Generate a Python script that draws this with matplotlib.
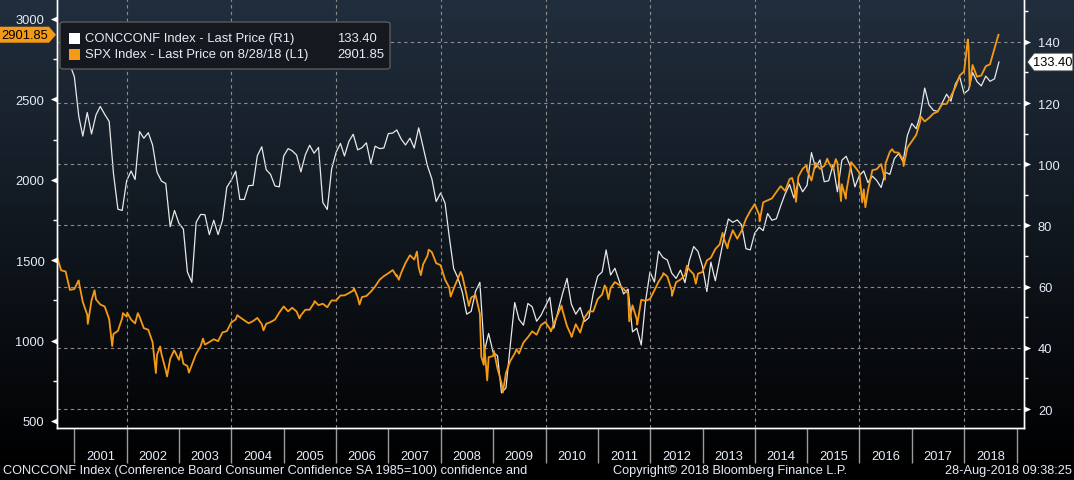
import numpy as np
import pandas as pd
import matplotlib
matplotlib.use('Agg')
import matplotlib.pyplot as plt
from matplotlib.patches import Polygon, FancyBboxPatch, Rectangle
from matplotlib.transforms import IdentityTransform

plt.rcParams['font.family'] = ['Liberation Sans', 'DejaVu Sans']

# S&P 500 month-end closes, Sep 2000 .. Jul 2018
spx_close = [
    1436.5, 1429.4, 1315.0, 1320.3,
    1366.0, 1239.9, 1160.3, 1249.5, 1255.8, 1224.4, 1211.2, 1133.6, 1040.9, 1059.8, 1139.5, 1148.1,
    1130.2, 1106.7, 1147.4, 1076.9, 1067.1, 989.8, 911.6, 916.1, 815.3, 885.8, 936.3, 879.8,
    855.7, 841.2, 848.2, 916.9, 963.6, 974.5, 990.3, 1008.0, 996.0, 1050.7, 1058.2, 1111.9,
    1131.1, 1144.9, 1126.2, 1107.3, 1120.7, 1140.8, 1101.7, 1104.2, 1114.6, 1130.2, 1173.8, 1211.9,
    1181.3, 1203.6, 1180.6, 1156.9, 1191.5, 1191.3, 1234.2, 1220.3, 1228.8, 1207.0, 1249.5, 1248.3,
    1280.1, 1280.7, 1294.8, 1310.6, 1270.1, 1270.2, 1276.7, 1303.8, 1335.9, 1377.9, 1400.6, 1418.3,
    1438.2, 1406.8, 1420.9, 1482.4, 1530.6, 1503.4, 1455.3, 1474.0, 1526.8, 1549.4, 1481.1, 1468.4,
    1378.6, 1330.6, 1322.7, 1385.6, 1400.4, 1280.0, 1267.4, 1282.8, 1166.4, 968.8, 896.2, 903.3,
    825.9, 735.1, 797.9, 872.8, 919.1, 919.3, 987.5, 1020.6, 1057.1, 1036.2, 1095.6, 1115.1,
    1073.9, 1104.5, 1169.4, 1186.7, 1089.4, 1030.7, 1101.6, 1049.3, 1141.2, 1183.3, 1180.6, 1257.6,
    1286.1, 1327.2, 1325.8, 1363.6, 1345.2, 1320.6, 1292.3, 1218.9, 1131.4, 1253.3, 1247.0, 1257.6,
    1312.4, 1365.7, 1408.5, 1397.9, 1310.3, 1362.2, 1379.3, 1406.6, 1440.7, 1412.2, 1416.2, 1426.2,
    1498.1, 1514.7, 1569.2, 1597.6, 1630.7, 1606.3, 1685.7, 1633.0, 1681.6, 1756.5, 1805.8, 1848.4,
    1782.6, 1859.5, 1872.3, 1884.0, 1923.6, 1960.2, 1930.7, 2003.4, 1972.3, 2018.1, 2067.6, 2058.9,
    1995.0, 2104.5, 2067.9, 2085.5, 2107.4, 2063.1, 2103.8, 1972.2, 1920.0, 2079.4, 2080.4, 2043.9,
    1940.2, 1932.2, 2059.7, 2065.3, 2097.0, 2098.9, 2173.6, 2171.0, 2168.3, 2126.2, 2198.8, 2238.8,
    2278.9, 2363.6, 2362.7, 2384.2, 2411.8, 2423.4, 2470.3, 2471.7, 2519.4, 2575.3, 2647.6, 2673.6,
    2823.8, 2713.8, 2640.9, 2648.1, 2705.3, 2718.4, 2816.3,
]

# intra-month S&P 500 turning points (and the last price)
spx_extra_dates = [
    '2000-09-01', '2001-01-30', '2001-04-04', '2001-05-21', '2001-09-21', '2001-12-05',
    '2002-01-04', '2002-03-19', '2002-07-23', '2002-08-22', '2002-10-09', '2002-11-27',
    '2003-01-14', '2003-03-11', '2003-06-17', '2004-02-11', '2004-08-12', '2005-04-20',
    '2005-08-03', '2006-05-05', '2006-06-13', '2007-02-27', '2007-03-14', '2007-07-19',
    '2007-08-15', '2007-10-09', '2008-03-10', '2008-05-19', '2008-07-15', '2008-10-10',
    '2008-10-27', '2008-11-20', '2009-01-06', '2009-03-09', '2009-06-12', '2010-02-08',
    '2010-04-23', '2010-07-02', '2011-02-18', '2011-03-16', '2011-08-08', '2011-10-03',
    '2012-04-02', '2012-06-01', '2012-09-14', '2012-11-15', '2013-05-21', '2013-06-24',
    '2014-02-03', '2014-09-18', '2014-10-15', '2014-12-29', '2015-05-21', '2015-07-20',
    '2015-08-25', '2015-09-28', '2015-11-03', '2016-01-20', '2016-02-11', '2016-06-27',
    '2016-08-15', '2016-11-04', '2017-03-01', '2018-01-26', '2018-02-08', '2018-08-28',
]
spx_extra = [
    1520.8, 1373.7, 1103.3, 1312.8, 965.8, 1170.4,
    1172.5, 1170.3, 797.7, 962.7, 776.8, 938.9,
    931.7, 800.7, 1011.7, 1157.8, 1063.2, 1137.5,
    1245.0, 1325.8, 1223.7, 1399.0, 1377.9, 1553.1,
    1406.7, 1565.2, 1273.4, 1426.6, 1214.9, 899.2,
    848.9, 752.4, 934.7, 676.5, 946.2, 1056.7,
    1217.3, 1022.6, 1343.0, 1256.9, 1119.5, 1099.2,
    1419.0, 1278.0, 1465.8, 1353.3, 1669.2, 1573.1,
    1741.9, 2011.4, 1862.5, 2090.6, 2130.8, 2128.3,
    1867.6, 1881.8, 2109.8, 1859.3, 1829.1, 2000.5,
    2190.2, 2085.2, 2396.0, 2872.9, 2581.0, 2901.85,
]

# Conference Board Consumer Confidence, Sep 2000 .. Aug 2018
conf = [
    142.5, 135.8, 132.6, 128.6,
    115.7, 109.2, 116.9, 109.9, 116.1, 118.9, 116.3, 114.0, 97.0, 85.3, 84.9, 94.6,
    97.8, 95.0, 110.7, 108.5, 110.3, 106.3, 97.4, 94.5, 93.7, 79.6, 84.9, 80.7,
    78.8, 64.8, 61.4, 81.0, 83.6, 83.5, 77.0, 81.7, 77.0, 81.7, 92.5, 94.8,
    97.7, 88.5, 88.5, 93.0, 93.1, 102.8, 105.7, 98.2, 96.7, 92.9, 92.6, 102.7,
    105.1, 104.4, 103.0, 97.5, 103.1, 106.2, 103.6, 105.5, 87.5, 85.2, 98.3, 103.8,
    106.8, 102.7, 107.5, 109.8, 104.7, 105.4, 107.0, 100.2, 105.9, 105.1, 105.3, 110.0,
    110.2, 111.2, 108.2, 106.3, 108.5, 105.3, 111.9, 105.6, 99.5, 95.2, 87.8, 90.6,
    87.3, 76.4, 65.9, 62.8, 58.1, 51.0, 51.9, 58.5, 61.4, 38.8, 44.7, 38.6,
    37.4, 25.3, 26.9, 40.8, 54.8, 49.3, 47.4, 54.5, 53.4, 48.7, 50.6, 53.6,
    56.5, 46.4, 52.3, 57.7, 62.7, 54.3, 51.0, 53.2, 48.6, 49.9, 57.8, 63.4,
    64.8, 72.0, 63.8, 66.0, 61.7, 57.6, 59.2, 45.2, 46.4, 40.9, 55.2, 64.8,
    61.5, 71.6, 69.5, 68.7, 64.4, 62.7, 65.4, 61.3, 68.4, 73.1, 71.5, 66.7,
    58.4, 68.0, 61.9, 69.0, 76.2, 82.1, 81.0, 81.8, 80.2, 72.4, 72.0, 77.5,
    79.4, 78.3, 83.9, 81.7, 82.2, 86.4, 90.3, 93.4, 89.0, 94.1, 91.0, 93.1,
    103.8, 98.8, 101.4, 94.3, 94.6, 99.8, 91.0, 101.3, 102.6, 99.1, 92.6, 96.3,
    97.8, 94.0, 96.1, 94.7, 92.4, 97.4, 96.7, 101.8, 103.5, 100.8, 109.4, 113.3,
    111.6, 116.1, 124.9, 119.4, 117.6, 117.3, 120.0, 122.9, 120.6, 126.2, 128.6, 123.1,
    124.3, 130.0, 127.0, 125.6, 128.8, 127.1, 127.9, 133.4,
]

years = list(range(2001, 2019))
left_ticks = [500, 1000, 1500, 2000, 2500, 3000]
right_ticks = [20, 40, 60, 80, 100, 120, 140]

ORANGE = '#f59a14'
TXT = '#e4ecf8'

def month_ends(start, n):
    return pd.period_range(start, periods=n, freq='M').to_timestamp() + pd.offsets.MonthEnd(0)

spx = pd.Series(spx_close, index=month_ends('2000-09', len(spx_close)))
spx = pd.concat([spx, pd.Series(spx_extra, index=pd.to_datetime(spx_extra_dates))]).sort_index()
cci = pd.Series(conf, index=month_ends('2000-09', len(conf)))

W, H = 1074, 481
fig = plt.figure(figsize=(W / 100, H / 100), dpi=100, facecolor='black')

# background gradient
bg = fig.add_axes([0, 0, 1, 1], zorder=-10)
t = np.clip(np.linspace(0, 1, H) / 0.98, 0, 1)[:, None]
top = np.array([33, 46, 61]) / 255
grad = (1 - t)[..., None] * top[None, None, :]
bg.imshow(grad, aspect='auto', extent=[0, 1, 0, 1], origin='upper')
bg.axis('off')

ax = fig.add_axes([57 / W, 52 / H, (1024 - 57) / W, 429 / H])
ax2 = ax.twinx()
ax.set_zorder(ax2.get_zorder() + 1)
ax.patch.set_visible(False)
ax2.patch.set_visible(False)

ax2.plot(cci.index, cci.values, color='#e8e8e8', lw=0.9)
ax.plot(spx.index, spx.values, color=ORANGE, lw=1.3)

ax.set_xlim(pd.Timestamp('2000-09-01'), pd.Timestamp('2019-02-22'))
ax.set_ylim(456, 3124)
ax2.set_ylim(13.8, 154.0)

for a in (ax, ax2):
    a.spines['top'].set_visible(False)
    for s in ['left', 'right', 'bottom']:
        a.spines[s].set_color('white')
        a.spines[s].set_linewidth(1)

# grid
grid_kw = dict(color='#8c8c8c', lw=0.8, ls=(0, (3, 3)))
for y in range(2002, 2019, 2):
    ax2.axvline(pd.Timestamp(f'{y}-01-01'), **grid_kw)
for v in right_ticks:
    ax2.axhline(v, **grid_kw)

# x axis: year separators + year labels
ax.set_xticks([pd.Timestamp(f'{y}-01-01') for y in range(2001, 2020)])
ax.set_xticklabels([])
ax.tick_params(axis='x', which='major', length=25, width=1, color='#9a9a9a', direction='out')
ax.set_xticks([pd.Timestamp(f'{y}-07-02') for y in years], minor=True)
ax.set_xticklabels([str(y) for y in years], minor=True)
ax.tick_params(axis='x', which='minor', length=0, pad=16, labelsize=9.3, labelcolor=TXT)

# left axis
ax.set_yticks(left_ticks)
ax.set_yticks([v + 250 for v in left_ticks[:-1]], minor=True)
ax.tick_params(axis='y', which='major', length=0, pad=9, labelsize=9.3, labelcolor=TXT)
ax.tick_params(axis='y', which='minor', length=3, width=1, color='white', direction='out')
tri_l = [(0, 0.45), (-1, 0), (0, -0.45), (0, 0.45)]
ax.scatter([0] * len(left_ticks), left_ticks, marker=tri_l, s=90, color='white',
           transform=ax.get_yaxis_transform(), clip_on=False, zorder=5, lw=0)

# right axis
ax2.set_yticks(right_ticks)
ax2.set_yticks([v + 10 for v in right_ticks], minor=True)
ax2.tick_params(axis='y', which='major', length=0, pad=10, labelsize=9.3, labelcolor=TXT)
ax2.tick_params(axis='y', which='minor', length=3, width=1, color='white', direction='out')
tri_r = [(0, 0.45), (1, 0), (0, -0.45), (0, 0.45)]
ax2.scatter([1] * len(right_ticks), right_ticks, marker=tri_r, s=90, color='white',
            transform=ax2.get_yaxis_transform(), clip_on=False, zorder=5, lw=0)

# last value tags
spx_last = spx.values[-1]
cci_last = cci.values[-1]
yl = ax.transData.transform((0, spx_last))[1]
fig.patches.append(Polygon([(0, yl - 8), (49, yl - 8), (56, yl), (49, yl + 8), (0, yl + 8)],
                           closed=True, fc=ORANGE, ec='none', transform=IdentityTransform()))
fig.text(25 / W, yl / H, f'{spx_last:.2f}', ha='center', va='center', fontsize=9.3, color='black')
yr = ax2.transData.transform((0, cci_last))[1]
fig.patches.append(Polygon([(1027, yr), (1034, yr - 9), (1073, yr - 9), (1073, yr + 9), (1034, yr + 9)],
                           closed=True, fc='white', ec='#333333', lw=0.8, transform=IdentityTransform()))
fig.text(1053 / W, yr / H, f'{cci_last:.2f}', ha='center', va='center', fontsize=9.3, color='black')

# legend
def px(x, y):
    return x / W, 1 - y / H

fig.patches.append(FancyBboxPatch(px(60, 70), 330 / W, 47 / H,
                                  boxstyle='round,pad=0,rounding_size=0.004',
                                  fc='#15191f', ec='#5a5a5a', lw=1, transform=fig.transFigure))
rows = [('CONCCONF Index - Last Price (R1)', 'white', f'{cci_last:.2f}', 39),
        ('SPX Index - Last Price on 8/28/18 (L1)', ORANGE, f'{spx_last:.2f}', 55)]
for label, col, val, y in rows:
    fig.patches.append(Rectangle(px(69, y + 5.5), 11 / W, 11 / H, fc=col, ec='none',
                                 transform=fig.transFigure))
    fig.text(*px(85, y), label, ha='left', va='center', fontsize=9.4, color=TXT)
    fig.text(*px(337, y), val, ha='left', va='center', fontsize=9.4, color=TXT)

# footer
fig.text(*px(3, 471), 'CONCCONF Index (Conference Board Consumer Confidence SA 1985=100) confidence and',
         ha='left', va='center', fontsize=9.2, color=TXT)
fig.text(*px(613, 471), 'Copyright\u00a9 2018 Bloomberg Finance L.P.',
         ha='left', va='center', fontsize=9.2, color=TXT)
fig.text(*px(1072, 471), '28-Aug-2018 09:38:25', ha='right', va='center', fontsize=9.2, color=TXT)

fig.savefig('out.png', dpi=100, facecolor='black')
